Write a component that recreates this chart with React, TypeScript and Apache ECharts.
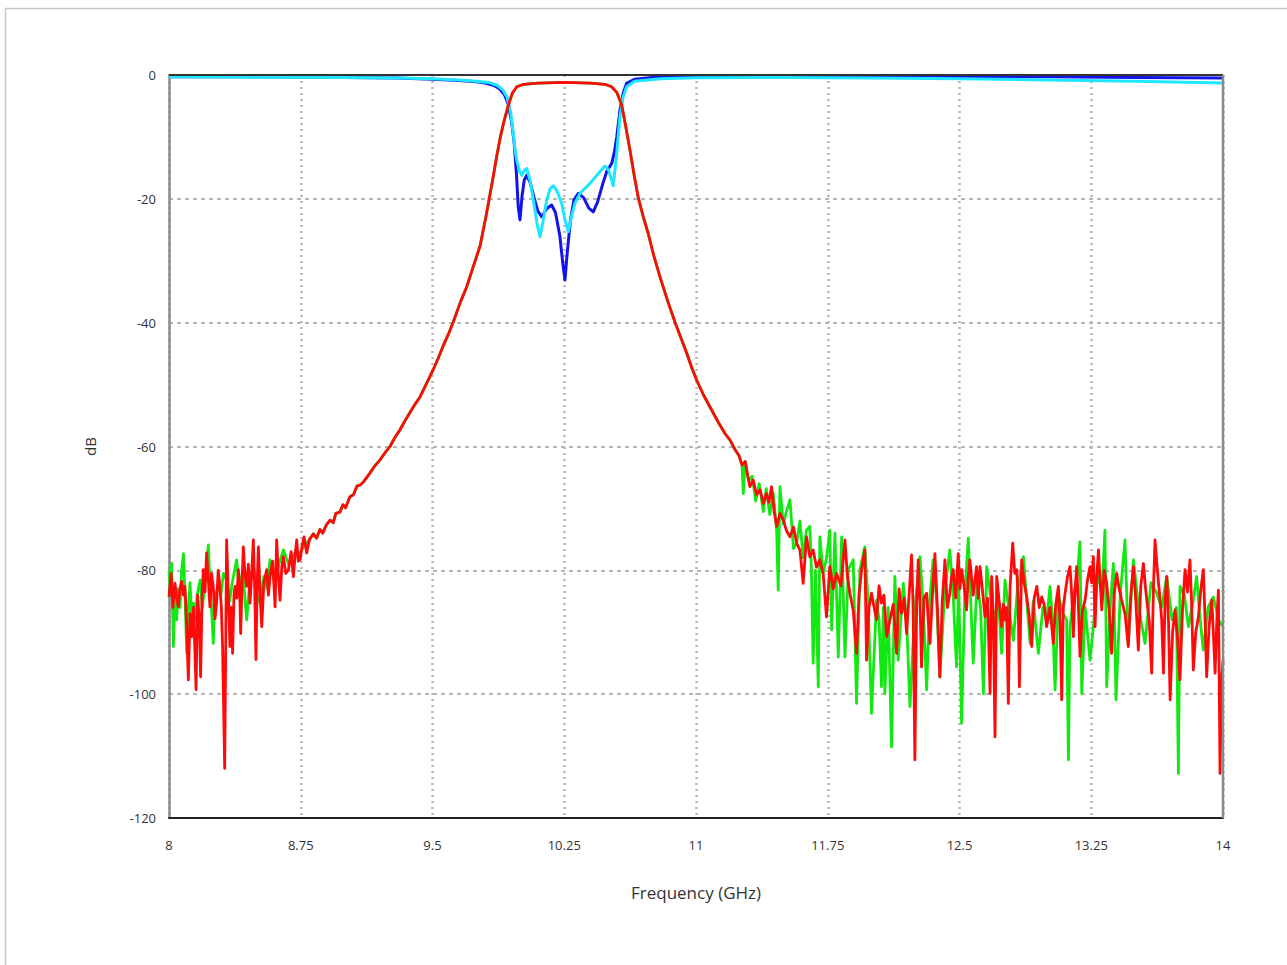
import React, { useEffect, useRef } from "react";
import * as echarts from "echarts";

type Pt = [number, number];

const X_MIN = 8;
const X_MAX = 14;
const X_STEP = 0.75;
const Y_MIN = -120;
const Y_MAX = 0;
const Y_STEP = 20;

// S11 (dark blue)
const S11: Pt[] = [
  [8.0, -0.3], [8.5, -0.3], [9.0, -0.4], [9.3, -0.5], [9.5, -0.7], [9.65, -0.9], [9.75, -1.1],
  [9.8, -1.3], [9.85, -1.7], [9.88, -2.2], [9.91, -3.2], [9.93, -4.6], [9.95, -7.5], [9.965, -11],
  [9.978, -16], [9.988, -21.3], [9.998, -23.4], [10.01, -19.5], [10.022, -17.0], [10.036, -16.2],
  [10.055, -17.3], [10.08, -20.0], [10.1, -22.0], [10.122, -22.9], [10.15, -21.6], [10.178, -21.0],
  [10.2, -22.2], [10.225, -26], [10.242, -30.5], [10.254, -33.1], [10.266, -29], [10.285, -23.5],
  [10.305, -20.2], [10.33, -19.1], [10.36, -19.8], [10.39, -21.5], [10.415, -22.1], [10.44, -20.5],
  [10.47, -17.5], [10.492, -15.6], [10.52, -14.3], [10.535, -12.5], [10.549, -10], [10.567, -5.7],
  [10.585, -3.0], [10.605, -1.35], [10.65, -0.7], [10.75, -0.4], [11.0, -0.25], [11.5, -0.2],
  [12.0, -0.2], [12.5, -0.25], [13.0, -0.3], [13.5, -0.4], [14.0, -0.5],
];

// S22 (cyan)
const S22: Pt[] = [
  [8.0, -0.3], [8.5, -0.35], [9.0, -0.4], [9.3, -0.5], [9.5, -0.6], [9.65, -0.8], [9.75, -1.0],
  [9.82, -1.2], [9.87, -1.7], [9.9, -2.4], [9.925, -3.6], [9.945, -6], [9.96, -9.5], [9.972, -12.5],
  [9.979, -13.7], [9.995, -15.5], [10.008, -16.2], [10.022, -15.4], [10.036, -15.1], [10.055, -17],
  [10.074, -20.2], [10.095, -24], [10.112, -26.1], [10.13, -23.5], [10.15, -20.2], [10.17, -18.3],
  [10.188, -17.9], [10.21, -18.8], [10.235, -20.7], [10.255, -23.5], [10.273, -25.3], [10.29, -23],
  [10.311, -20.7], [10.34, -19.1], [10.397, -17.5], [10.454, -15.6], [10.482, -14.7], [10.5, -15.2],
  [10.515, -16.5], [10.529, -17.9], [10.549, -12.6], [10.567, -6.7], [10.585, -3.6], [10.605, -1.9],
  [10.65, -1.0], [10.8, -0.6], [11.0, -0.45], [11.5, -0.4], [12.0, -0.5], [12.5, -0.6], [13.0, -0.8],
  [13.5, -1.0], [14.0, -1.3],
];

// Shared smooth transmission skirt / passband (S21 and S12 coincide here)
const SKIRT: Pt[] = [
  [8.822, -74.1], [8.84, -74.8], [8.859, -73.4], [8.875, -74.0], [8.897, -72.6], [8.917, -71.9],
  [8.935, -72.3], [8.95, -70.8], [8.973, -70.6], [8.99, -69.4], [9.005, -69.9], [9.03, -68.1],
  [9.05, -67.8], [9.07, -66.4], [9.09, -66.2], [9.11, -65.6], [9.144, -64.3], [9.17, -63.2],
  [9.2, -62.2], [9.23, -61.0], [9.258, -60.0], [9.285, -58.6], [9.315, -57.3], [9.34, -56.0],
  [9.37, -54.6], [9.4, -53.2], [9.429, -52.0], [9.465, -49.9], [9.504, -47.6], [9.53, -45.9],
  [9.56, -43.8], [9.59, -41.9], [9.618, -39.9], [9.66, -36.6], [9.695, -34.2], [9.73, -31.1],
  [9.77, -27.7], [9.8, -23.5], [9.823, -20.0], [9.845, -16.5], [9.865, -13.2], [9.885, -10.2],
  [9.905, -7.7], [9.932, -4.85], [9.955, -2.9], [9.98, -1.9], [10.02, -1.5], [10.1, -1.3],
  [10.25, -1.2], [10.4, -1.3], [10.48, -1.5], [10.52, -1.9], [10.549, -2.8], [10.577, -4.85],
  [10.6, -8.3], [10.624, -12.1], [10.648, -16.2], [10.672, -19.9], [10.7, -22.9], [10.728, -25.6],
  [10.76, -29.2], [10.795, -32.6], [10.84, -36.6], [10.88, -39.9], [10.915, -42.5], [10.947, -44.9],
  [10.975, -47.2], [11.004, -49.3], [11.045, -51.8], [11.089, -54.1], [11.125, -56.0], [11.165, -57.9],
  [11.195, -59.0], [11.222, -60.5], [11.245, -61.5],
];

// S12 (red) noise floors
const S12_LOW: Pt[] = [
  [8.0, -84.3], [8.012, -80.5], [8.022, -86.0], [8.034, -82.1], [8.044, -84.5], [8.053, -85.9],
  [8.062, -83.0], [8.072, -81.8], [8.082, -84.0], [8.091, -82.6], [8.1, -88.5], [8.11, -97.7],
  [8.12, -87.0], [8.129, -90.7], [8.14, -86.0], [8.154, -99.3], [8.163, -84.0], [8.173, -88.0],
  [8.18, -97.2], [8.188, -84.5], [8.195, -79.9], [8.205, -83.5], [8.214, -77.2], [8.224, -81.5],
  [8.233, -85.9], [8.242, -80.5], [8.252, -82.6], [8.262, -87.8], [8.271, -85.3], [8.28, -80.0],
  [8.29, -82.6], [8.298, -86.0], [8.305, -92.3], [8.317, -112.0], [8.328, -75.1], [8.338, -84.0],
  [8.347, -92.3], [8.355, -86.0], [8.362, -93.4], [8.37, -84.0], [8.376, -82.6], [8.386, -84.5],
  [8.395, -79.9], [8.402, -83.0], [8.408, -90.2], [8.416, -82.0], [8.423, -76.2], [8.432, -80.5],
  [8.442, -82.6], [8.452, -79.0], [8.461, -85.3], [8.47, -81.0], [8.48, -75.1], [8.488, -83.0],
  [8.495, -94.4], [8.502, -82.0], [8.509, -76.2], [8.518, -83.5], [8.528, -89.1], [8.54, -82.0],
  [8.556, -79.9], [8.566, -84.0], [8.575, -81.0], [8.59, -78.5], [8.604, -85.9], [8.613, -75.1],
  [8.622, -80.5], [8.632, -84.8], [8.642, -79.5], [8.651, -77.8], [8.665, -80.5], [8.68, -79.9],
  [8.695, -77.0], [8.708, -81.0], [8.718, -77.5], [8.727, -75.1], [8.736, -78.5], [8.746, -78.3],
  [8.758, -76.0], [8.769, -74.6], [8.784, -77.2], [8.8, -75.0],
];

const S12_HIGH: Pt[] = [
  [11.262, -63.0], [11.28, -62.4], [11.295, -64.8], [11.307, -66.5], [11.325, -65.4], [11.345, -67.8],
  [11.365, -67.0], [11.383, -69.2], [11.4, -67.6], [11.415, -69.0], [11.43, -66.5], [11.445, -70.5],
  [11.459, -72.9], [11.478, -70.8], [11.497, -71.9], [11.515, -73.6], [11.535, -74.6], [11.555, -73.0],
  [11.573, -75.6], [11.592, -76.8], [11.61, -82.1], [11.629, -74.6], [11.648, -77.8], [11.667, -76.7],
  [11.686, -79.5], [11.705, -78.3], [11.724, -80.6], [11.743, -87.5], [11.762, -79.4], [11.781, -83.0],
  [11.8, -80.5], [11.825, -82.5], [11.848, -75.1], [11.862, -81.0], [11.876, -83.7], [11.895, -86.5],
  [11.914, -93.4], [11.928, -84.0], [11.943, -79.9], [11.961, -76.7], [11.971, -94.5], [11.985, -86.0],
  [11.999, -83.7], [12.014, -86.0], [12.028, -88.0], [12.042, -82.5], [12.056, -85.3], [12.07, -84.0],
  [12.085, -90.7], [12.104, -88.0], [12.123, -85.5], [12.142, -93.4], [12.156, -83.0], [12.17, -86.9],
  [12.185, -84.5], [12.199, -90.2], [12.213, -84.0], [12.227, -77.5], [12.236, -86.0], [12.246, -110.6],
  [12.256, -86.0], [12.265, -78.3], [12.275, -85.0], [12.284, -95.6], [12.298, -84.5], [12.313, -83.7],
  [12.322, -88.0], [12.332, -91.8], [12.346, -84.0], [12.36, -77.3], [12.374, -86.0], [12.388, -97.2],
  [12.402, -85.0], [12.417, -78.3], [12.431, -86.0], [12.445, -83.7], [12.455, -81.0], [12.464, -79.9],
  [12.478, -84.5], [12.493, -77.3], [12.502, -83.0], [12.512, -79.9], [12.526, -82.5], [12.54, -86.4],
  [12.55, -81.0], [12.559, -78.3], [12.578, -84.0], [12.597, -79.4], [12.607, -84.5], [12.617, -79.4],
  [12.63, -83.0], [12.645, -87.5], [12.66, -84.5], [12.674, -99.9], [12.683, -81.0], [12.693, -88.0],
  [12.702, -106.9], [12.712, -81.0], [12.726, -85.0], [12.74, -89.1], [12.75, -85.5], [12.759, -88.0],
  [12.768, -86.0], [12.778, -101.5], [12.788, -82.6], [12.803, -75.6], [12.815, -80.5], [12.826, -79.9],
  [12.834, -85.0], [12.841, -98.8], [12.854, -78.3], [12.868, -82.0], [12.883, -84.3], [12.897, -87.5],
  [12.911, -92.3], [12.925, -84.5], [12.94, -82.6], [12.954, -86.0], [12.968, -84.3], [12.982, -85.5],
  [12.996, -89.1], [13.015, -86.0], [13.034, -91.8], [13.048, -85.5], [13.063, -82.6], [13.072, -88.0],
  [13.082, -100.9], [13.091, -86.0], [13.101, -83.7], [13.115, -81.0], [13.129, -79.4], [13.139, -84.0],
  [13.148, -90.7], [13.157, -83.5], [13.167, -79.4], [13.176, -85.0], [13.186, -93.9], [13.2, -86.5],
  [13.215, -84.8], [13.229, -81.5], [13.243, -79.4], [13.252, -82.0], [13.262, -77.8], [13.272, -89.1],
  [13.281, -81.0], [13.291, -76.7], [13.3, -81.5], [13.31, -86.4], [13.324, -80.0], [13.338, -82.1],
  [13.352, -86.5], [13.366, -93.4], [13.38, -84.0], [13.395, -80.5], [13.409, -83.0], [13.423, -84.8],
  [13.442, -87.0], [13.461, -92.3], [13.475, -84.0], [13.49, -79.4], [13.504, -85.0], [13.518, -92.9],
  [13.532, -82.5], [13.547, -78.9], [13.556, -82.0], [13.566, -84.8], [13.58, -88.0], [13.594, -96.6],
  [13.604, -83.0], [13.613, -75.1], [13.628, -80.5], [13.642, -84.8], [13.651, -88.0], [13.661, -96.6],
  [13.67, -85.0], [13.68, -81.0], [13.69, -88.5], [13.699, -100.9], [13.713, -90.0], [13.727, -86.4],
  [13.741, -91.0], [13.755, -97.7], [13.77, -86.0], [13.784, -79.9], [13.798, -83.5], [13.812, -78.3],
  [13.822, -86.0], [13.831, -96.1], [13.845, -90.0], [13.86, -87.5], [13.874, -83.0], [13.888, -79.9],
  [13.898, -88.0], [13.907, -97.2], [13.921, -89.0], [13.936, -84.8], [13.945, -90.0], [13.955, -96.6],
  [13.965, -88.0], [13.974, -83.2], [13.983, -112.8], [13.992, -98.0], [14.0, -94.5],
];

// S21 (green) noise floors
const S21_LOW: Pt[] = [
  [8.0, -80.0], [8.008, -84.0], [8.015, -78.9], [8.025, -92.3], [8.034, -84.0], [8.044, -88.0],
  [8.053, -83.0], [8.063, -86.0], [8.072, -80.0], [8.082, -77.3], [8.091, -84.0], [8.101, -93.4],
  [8.11, -86.0], [8.12, -82.0], [8.129, -88.0], [8.139, -85.3], [8.15, -88.0], [8.16, -84.0],
  [8.177, -81.6], [8.19, -86.0], [8.205, -82.0], [8.214, -79.0], [8.224, -75.9], [8.233, -82.0],
  [8.242, -86.0], [8.252, -91.8], [8.262, -84.0], [8.281, -82.6], [8.295, -84.0], [8.31, -80.5],
  [8.328, -81.6], [8.345, -85.0], [8.36, -82.0], [8.385, -78.3], [8.4, -83.0], [8.42, -80.0],
  [8.442, -88.0], [8.46, -82.0], [8.48, -79.0], [8.5, -84.0], [8.518, -85.3], [8.54, -81.0],
  [8.56, -83.0], [8.575, -78.3], [8.6, -82.0], [8.62, -79.5], [8.651, -76.7], [8.68, -79.0],
  [8.7, -78.0], [8.725, -76.8], [8.746, -77.3], [8.77, -76.0], [8.8, -75.0],
];

const S21_HIGH: Pt[] = [
  [11.262, -63.0], [11.269, -67.6], [11.28, -62.5], [11.3, -65.5], [11.32, -64.8], [11.34, -68.8],
  [11.36, -66.0], [11.383, -70.5], [11.4, -66.8], [11.42, -71.0], [11.44, -67.5], [11.459, -73.5],
  [11.468, -83.2], [11.478, -66.5], [11.497, -72.5], [11.515, -70.5], [11.535, -68.6], [11.555, -76.5],
  [11.573, -75.6], [11.592, -72.0], [11.61, -78.0], [11.629, -73.5], [11.648, -72.9], [11.657, -80.0],
  [11.667, -95.0], [11.68, -80.0], [11.696, -98.8], [11.705, -74.6], [11.724, -80.5], [11.743, -78.0],
  [11.762, -73.5], [11.772, -89.6], [11.791, -74.0], [11.81, -94.0], [11.829, -74.6], [11.848, -94.0],
  [11.867, -79.9], [11.895, -78.3], [11.914, -101.5], [11.933, -79.9], [11.961, -76.2], [11.98, -85.0],
  [11.999, -103.1], [12.028, -84.8], [12.042, -88.0], [12.056, -98.8], [12.066, -86.0], [12.075, -99.9],
  [12.094, -86.0], [12.113, -108.5], [12.132, -81.0], [12.151, -94.5], [12.18, -82.1], [12.199, -88.0],
  [12.218, -102.0], [12.246, -86.0], [12.275, -77.8], [12.294, -86.0], [12.313, -99.3], [12.33, -85.0],
  [12.35, -78.3], [12.37, -85.0], [12.388, -97.2], [12.417, -83.0], [12.445, -76.7], [12.464, -84.0],
  [12.483, -95.6], [12.495, -82.0], [12.512, -104.7], [12.53, -84.0], [12.55, -74.8], [12.578, -95.0],
  [12.6, -82.0], [12.62, -86.0], [12.636, -99.9], [12.655, -79.4], [12.68, -85.0], [12.7, -88.0],
  [12.72, -84.0], [12.74, -93.4], [12.759, -81.6], [12.78, -86.0], [12.807, -91.3], [12.83, -83.0],
  [12.864, -77.8], [12.883, -85.0], [12.902, -91.8], [12.92, -85.0], [12.949, -93.4], [12.975, -86.0],
  [12.996, -88.0], [13.015, -82.6], [13.03, -88.0], [13.044, -99.3], [13.063, -84.0], [13.09, -87.0],
  [13.11, -88.0], [13.12, -110.6], [13.129, -89.1], [13.15, -84.0], [13.17, -81.0], [13.186, -75.4],
  [13.196, -99.9], [13.215, -86.0], [13.243, -94.5], [13.262, -89.1], [13.29, -80.0], [13.31, -84.0],
  [13.328, -73.5], [13.338, -98.8], [13.36, -85.0], [13.376, -78.9], [13.391, -100.9], [13.415, -84.0],
  [13.442, -75.1], [13.461, -91.8], [13.49, -78.3], [13.52, -86.0], [13.556, -91.8], [13.59, -82.0],
  [13.623, -83.7], [13.65, -86.0], [13.68, -81.0], [13.71, -88.0], [13.735, -86.0], [13.746, -112.8],
  [13.755, -82.6], [13.78, -84.0], [13.803, -89.1], [13.83, -85.0], [13.85, -81.0], [13.87, -88.0],
  [13.888, -92.9], [13.915, -86.0], [13.945, -84.3], [13.975, -88.0], [14.0, -89.1],
];

const FONT = "'Open Sans', 'Noto Sans', sans-serif";

export default function App() {
  const ref = useRef<HTMLDivElement>(null);

  useEffect(() => {
    if (!ref.current) return;
    const chart = echarts.init(ref.current, null, { renderer: "svg" });
    const GL = 169, GT = 75, GW = 1054, GH = 743;

    const lineSeries = (name: string, data: Pt[], color: string, z: number, width: number) => ({
      name,
      type: "line",
      data,
      showSymbol: false,
      symbol: "none",
      z,
      lineStyle: { color, width, join: "round" },
      emphasis: { disabled: true },
    });

    chart.setOption({
      animation: false,
      backgroundColor: "#ffffff",
      grid: { left: GL, top: GT, width: GW, height: GH, containLabel: false },
      xAxis: {
        type: "value",
        min: X_MIN,
        max: X_MAX,
        interval: X_STEP,
        name: "Frequency (GHz)",
        nameLocation: "middle",
        nameGap: 66,
        nameTextStyle: { fontSize: 17, color: "#333", fontFamily: FONT },
        axisLine: { show: true, onZero: false, lineStyle: { color: "#222", width: 2 } },
        axisTick: { show: false },
        axisLabel: { fontSize: 13, color: "#333", margin: 20, fontFamily: FONT },
        splitLine: { show: true, lineStyle: { color: "#b6b6b6", type: [2, 4], width: 2.5 } },
      },
      yAxis: {
        type: "value",
        min: Y_MIN,
        max: Y_MAX,
        interval: Y_STEP,
        name: "dB",
        nameLocation: "middle",
        nameGap: 72,
        nameRotate: 90,
        nameTextStyle: { fontSize: 15, color: "#333", fontFamily: FONT },
        axisLine: { show: true, onZero: false, lineStyle: { color: "#8a8a8a", width: 2.5 } },
        axisTick: { show: false },
        axisLabel: { fontSize: 13, color: "#333", margin: 13, fontFamily: FONT },
        splitLine: { show: true, lineStyle: { color: "#b6b6b6", type: [4, 4], width: 2 } },
      },
      graphic: [
        {
          type: "rect",
          shape: { x: 5.5, y: 8.5, width: 1300, height: 1000 },
          style: { fill: "none", stroke: "#c8c8c8", lineWidth: 1.5 },
          silent: true,
          z: -10,
        },
        {
          type: "line",
          shape: { x1: GL, y1: GT, x2: GL + GW, y2: GT },
          style: { stroke: "#333", lineWidth: 2 },
          silent: true,
          z: 100,
        },
        {
          type: "line",
          shape: { x1: GL + GW, y1: GT, x2: GL + GW, y2: GT + GH },
          style: { stroke: "#8a8a8a", lineWidth: 2.5 },
          silent: true,
          z: 100,
        },
      ],
      series: [
        lineSeries("S11", S11, "#1414ea", 2, 3),
        lineSeries("S22", S22, "#1ee6ff", 3, 3),
        lineSeries("S21", [...S21_LOW, ...SKIRT, ...S21_HIGH], "#12e812", 4, 2.8),
        lineSeries("S12", [...S12_LOW, ...SKIRT, ...S12_HIGH], "#ff0a0a", 5, 2.8),
      ],
    });
    return () => chart.dispose();
  }, []);

  return (
    <div
      ref={ref}
      style={{ position: "absolute", left: 0, top: 0, width: 1287, height: 965, background: "#fff" }}
    />
  );
}
